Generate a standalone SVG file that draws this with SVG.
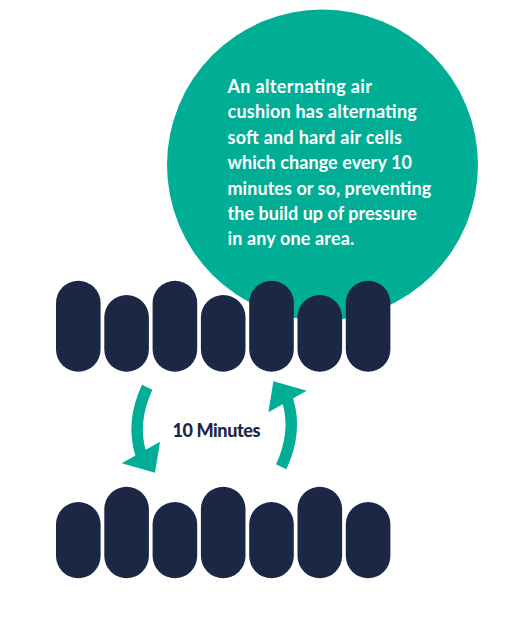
<svg xmlns="http://www.w3.org/2000/svg" width="530" height="628" viewBox="0 0 530 628">
  <defs>
    <style>
      .teal { fill: #00AE96; }
      .cell { fill: #1A2846; }
      .band { fill: none; stroke: #00AE96; stroke-width: 11.5; stroke-linecap: butt; }
      .para { font-family: Lato, "Open Sans", sans-serif; font-weight: 700; font-size: 18px; fill: #FFFFFF; }
      .label { font-family: Lato, "Open Sans", sans-serif; font-weight: 900; font-size: 18px; fill: #1A2846; }
    </style>
    <g id="arrow">
      <path class="band" d="M147.2,387.2 Q131,421.9 140.8,454"/>
      <polygon class="teal" points="121.7,463.3 160,441.7 155,472.7"/>
    </g>
  </defs>
  <rect width="530" height="628" fill="#FFFFFF"/>

  <g id="callout">
    <circle class="teal" cx="322.5" cy="165" r="155.5"/>
    <text class="para" x="227.5" y="93" textLength="144.4">An alternating air</text>
    <text class="para" x="227.5" y="118.4" textLength="189.3">cushion has alternating</text>
    <text class="para" x="227.5" y="143.8" textLength="174.4">soft and hard air cells</text>
    <text class="para" x="227.5" y="169.2" textLength="184.4">which change every 10</text>
    <text class="para" x="227.5" y="194.6" textLength="203.7">minutes or so, preventing</text>
    <text class="para" x="227.5" y="220" textLength="189.3">the build up of pressure</text>
    <text class="para" x="227.5" y="245.4" textLength="126.7">in any one area.</text>
  </g>

  <g id="top-row">
    <g id="top-cell-1"><rect class="cell" x="56" y="280.7" width="44.6" height="91" rx="22.3"/></g>
    <g id="top-cell-2"><rect class="cell" x="104.3" y="295" width="44.6" height="76.7" rx="22.3"/></g>
    <g id="top-cell-3"><rect class="cell" x="152.6" y="280.7" width="44.6" height="91" rx="22.3"/></g>
    <g id="top-cell-4"><rect class="cell" x="200.9" y="295" width="44.6" height="76.7" rx="22.3"/></g>
    <g id="top-cell-5"><rect class="cell" x="249.2" y="280.7" width="44.6" height="91" rx="22.3"/></g>
    <g id="top-cell-6"><rect class="cell" x="297.5" y="295" width="44.6" height="76.7" rx="22.3"/></g>
    <g id="top-cell-7"><rect class="cell" x="345.8" y="280.7" width="44.6" height="91" rx="22.3"/></g>
  </g>

  <g id="bottom-row">
    <g id="bottom-cell-1"><rect class="cell" x="56" y="502" width="44.6" height="76.3" rx="22.3"/></g>
    <g id="bottom-cell-2"><rect class="cell" x="104.3" y="486.7" width="44.6" height="91.6" rx="22.3"/></g>
    <g id="bottom-cell-3"><rect class="cell" x="152.6" y="502" width="44.6" height="76.3" rx="22.3"/></g>
    <g id="bottom-cell-4"><rect class="cell" x="200.9" y="486.7" width="44.6" height="91.6" rx="22.3"/></g>
    <g id="bottom-cell-5"><rect class="cell" x="249.2" y="502" width="44.6" height="76.3" rx="22.3"/></g>
    <g id="bottom-cell-6"><rect class="cell" x="297.5" y="486.7" width="44.6" height="91.6" rx="22.3"/></g>
    <g id="bottom-cell-7"><rect class="cell" x="345.8" y="502" width="44.6" height="76.3" rx="22.3"/></g>
  </g>

  <g id="connectors">
    <use href="#arrow"/>
    <use href="#arrow" transform="rotate(180 214.2 427)"/>
  </g>

  <g id="label">
    <text class="label" x="172.5" y="436.5" textLength="88">10 Minutes</text>
  </g>
</svg>
